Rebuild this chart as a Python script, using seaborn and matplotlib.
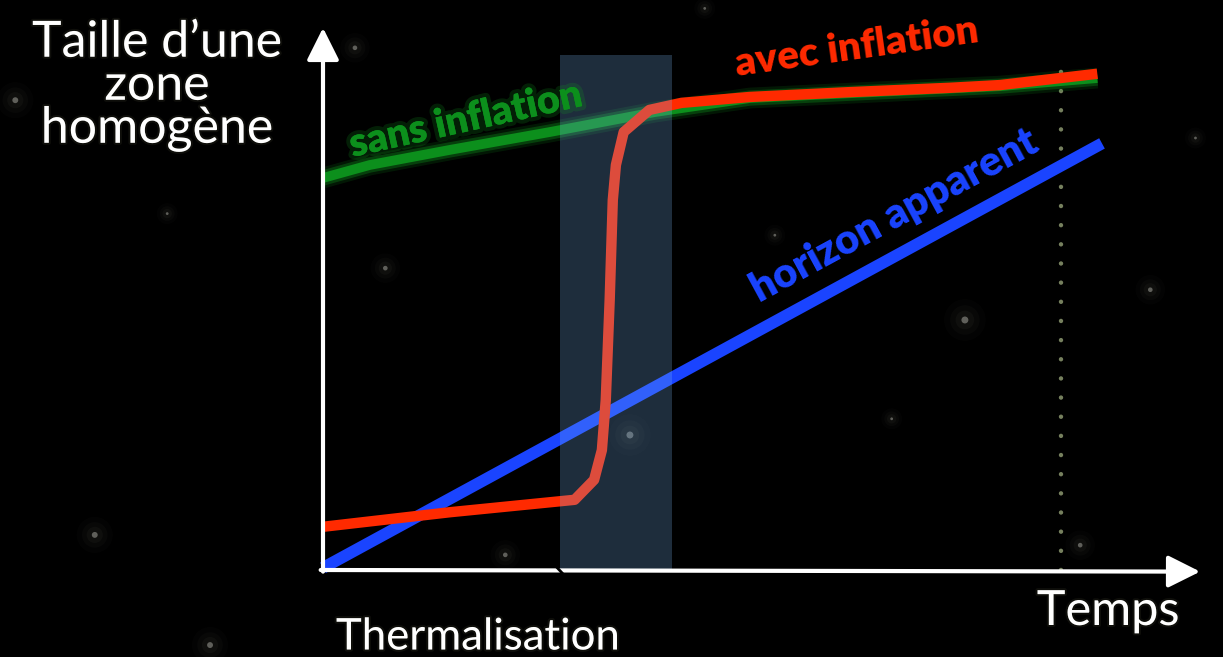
import numpy as np
import pandas as pd
import seaborn as sns
import matplotlib.pyplot as plt
import matplotlib.patheffects as pe

# time (arbitrary units) and size of a homogeneous zone
t_sans = [0, 6.0, 16.3, 29.1, 42.6, 54.8, 67.7, 86.9, 99.4]
s_sans = [72.6, 75.0, 77.8, 81.1, 84.8, 87.4, 88.3, 89.6, 91.1]

t_avec = [0, 16.3, 32.3, 34.8, 35.8, 36.3, 36.8, 37.2, 37.6, 38.6, 41.9, 46.0,
          54.8, 67.7, 80.5, 86.9, 99.4]
s_avec = [8.0, 10.7, 13.0, 16.7, 22.2, 31.5, 50.0, 68.5, 75.0, 81.1, 85.2, 86.5,
          87.6, 88.5, 89.3, 89.8, 91.9]

t_horizon = [0, 100]
s_horizon = [0.4, 79.0]

band_t = [30.4, 44.8]      # thermalisation period
band_top = 95.4
t_now = 94.7               # dotted vertical line

# faint background stars (t, s, size)
star_t = [-29.3, 82.4, 39.4, 8.0, -39.5, 97.2, 23.4, 4.1, 106.2, -14.5, 58.0, 73.0, 112.0, -20.0, 49.0]
star_s = [6.5, 46.3, 25.0, 55.9, 87.0, 4.6, 2.8, 96.7, 51.9, -13.9, 62.0, 28.0, 80.0, 66.0, 104.0]
star_sz = [3, 4, 4, 2, 3, 2, 2, 2, 2, 3, 1, 1, 1, 1, 1]

X0, Y0, SX, SY = 323, 570, 7.79, 5.4
W, H = 1223, 657

df = pd.concat([
    pd.DataFrame({"t": t_sans, "s": s_sans, "courbe": "sans"}),
    pd.DataFrame({"t": t_avec, "s": s_avec, "courbe": "avec"}),
    pd.DataFrame({"t": t_horizon, "s": s_horizon, "courbe": "horizon"}),
])
stars = pd.DataFrame({"t": star_t, "s": star_s, "sz": star_sz})

sns.set_style("dark", {"axes.facecolor": "black", "figure.facecolor": "black"})
plt.rcParams['font.family'] = ['Lato', 'DejaVu Sans']

fig = plt.figure(figsize=(W / 100, H / 100), dpi=100)
ax = fig.add_axes([0, 0, 1, 1])
ax.set_facecolor("black")
ax.set_xlim(-X0 / SX, (W - X0) / SX)
ax.set_ylim((Y0 - H) / SY, Y0 / SY)
ax.axis("off")

# stars: soft glow (a few stacked layers) + core
for big, a in [(900, 0.025), (450, 0.035), (180, 0.05)]:
    sns.scatterplot(data=stars, x="t", y="s", size="sz", sizes=(big / 4, big), color="#9aa090",
                    alpha=a, edgecolor="none", legend=False, ax=ax, zorder=1)
sns.scatterplot(data=stars, x="t", y="s", size="sz", sizes=(4, 25), color="#b0b0a8",
                alpha=0.5, edgecolor="none", legend=False, ax=ax, zorder=1)

colors = {"sans": "#0c8f1c", "avec": "#ff2a00", "horizon": "#1a44ff"}
widths = {"sans": 7, "avec": 7.5, "horizon": 8.5}
order = {"horizon": 3, "sans": 4, "avec": 5}
for name in ["horizon", "sans", "avec"]:
    sub = df[df["courbe"] == name]
    if name == "sans":
        for lw_g, a_g in [(15, 0.15), (11, 0.3)]:
            sns.lineplot(data=sub, x="t", y="s", sort=False, color="#12a020", lw=lw_g,
                         alpha=a_g, ax=ax, zorder=order[name] - 0.5, solid_capstyle="butt")
    sns.lineplot(data=sub, x="t", y="s", sort=False, color=colors[name], lw=widths[name],
                 ax=ax, zorder=order[name], solid_capstyle="butt", solid_joinstyle="round")

# thermalisation band on top
ax.fill_between(band_t, 0, band_top, color="#78b4f0", alpha=0.25, lw=0, zorder=6)

# dotted line at present time
ax.plot([t_now, t_now], [0, band_top], color="#76805e", lw=3.2,
        linestyle=(0, (0.01, 4.3)), dash_capstyle="round", zorder=2)

# axes with arrows
arrow = dict(arrowstyle="-|>,head_length=0.9,head_width=0.45", color="white", lw=3,
             shrinkA=0, shrinkB=0, mutation_scale=22)
ax.annotate("", xy=(0, 100.4), xytext=(0, -0.3), arrowprops=arrow, zorder=7)
ax.annotate("", xy=(112.6, -0.3), xytext=(-0.3, 0), arrowprops=arrow, zorder=7)
ax.plot([29.5, 31.5], [1.3, -1.8], color="black", lw=2, zorder=8)

glow = [pe.withStroke(linewidth=3, foreground="#1c1c14", alpha=0.5)]
fig.text(157 / W, 1 - 86 / H, "Taille d\u2019une\nzone\nhomog\u00e8ne", color="white",
         fontsize=36, ha="center", va="center", multialignment="center",
         linespacing=0.92, path_effects=glow)
fig.text(1108 / W, 1 - 611 / H, "Temps", color="white", fontsize=35,
         ha="center", va="center", path_effects=glow)
fig.text(478 / W, 1 - 637 / H, "Thermalisation", color="white", fontsize=31.5,
         ha="center", va="center", path_effects=glow)

fig.text(466 / W, 1 - 120 / H, "sans inflation", color="#0c8f1c", fontsize=28.5,
         fontweight="heavy", ha="center", va="center", rotation=12.5,
         path_effects=[pe.withStroke(linewidth=6, foreground="#12a020", alpha=0.2), pe.Normal()])
fig.text(857 / W, 1 - 48 / H, "avec inflation", color="#ff2a00", fontsize=29,
         fontweight="heavy", ha="center", va="center", rotation=8)
fig.text(895 / W, 1 - 216 / H, "horizon apparent", color="#1a44ff", fontsize=30,
         fontweight="heavy", ha="center", va="center", rotation=28.5)

fig.savefig("out.png", dpi=100, facecolor="black")
